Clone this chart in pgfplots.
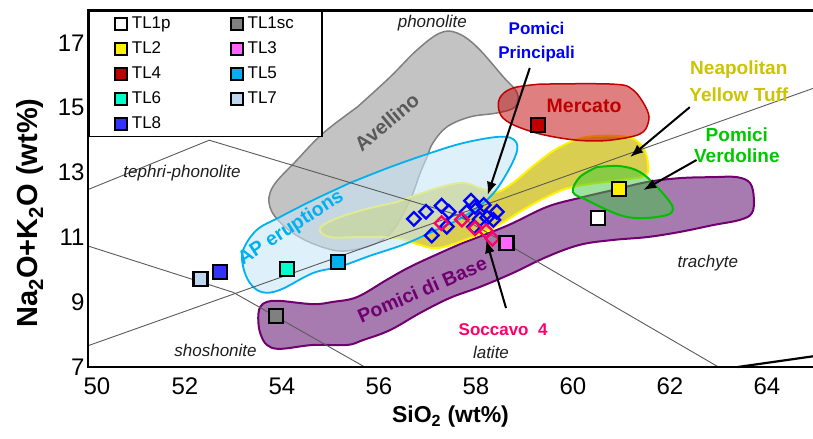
\documentclass[border=0pt]{standalone}
\usepackage{fontspec}
\setmainfont{Liberation Sans}
\usepackage{pgfplots}
\pgfplotsset{compat=1.18}
\usetikzlibrary{arrows.meta}
\definecolor{tlgray}{RGB}{128,128,128}
\definecolor{tlmag}{RGB}{255,102,255}
\definecolor{tlred}{RGB}{192,0,0}
\definecolor{tlcyan}{RGB}{0,176,240}
\definecolor{tlaqua}{RGB}{0,255,204}
\definecolor{tllb}{RGB}{189,215,238}
\definecolor{tlblue}{RGB}{51,51,255}
\definecolor{pinkfour}{RGB}{255,0,102}
\definecolor{purp}{RGB}{112,0,112}
\definecolor{purpfill}{RGB}{139,79,150}
\definecolor{apfill}{RGB}{200,230,247}
\definecolor{yelfill}{RGB}{204,190,20}
\definecolor{grfill}{RGB}{60,200,60}
\definecolor{grline}{RGB}{0,190,0}
\definecolor{grtext}{RGB}{0,200,0}
\definecolor{nyt}{RGB}{204,196,0}
\definecolor{avfill}{RGB}{185,185,185}
\definecolor{avline}{RGB}{128,128,128}
\definecolor{avtext}{RGB}{89,89,89}
\definecolor{tasline}{RGB}{90,90,90}
\definecolor{fieldtext}{RGB}{30,30,30}
\begin{document}
\begin{tikzpicture}
\begin{axis}[
  scale only axis, width=725bp, height=356.4bp,
  xmin=50, xmax=64.95, ymin=7, ymax=18,
  clip=false,
  axis line style={draw=none},
  major tick length=0pt,
  xtick={50,52,54,56,58,60,62,64}, ytick={7,9,11,13,15,17},
  xticklabels={\hspace*{18bp}50,52,54,56,58,60,62,64},
  /pgf/number format/assume math mode=true,
  tick label style={font=\fontsize{24bp}{28bp}\selectfont},
  xticklabel style={yshift=-7bp},
  xlabel={SiO\textsubscript{2} (wt\%)},
  ylabel={Na\textsubscript{2}O+K\textsubscript{2}O (wt\%)},
  xlabel style={font=\bfseries\fontsize{23bp}{28bp}\selectfont, at={(rel axis cs:0.5,-0.14)}, anchor=center},
  ylabel style={font=\bfseries\fontsize{29bp}{32bp}\selectfont, at={(rel axis cs:-0.08,0.432)}, anchor=center},
  legend columns=2,
  legend cell align=left,
  legend image post style={mark size=6bp},
  legend style={at={(rel axis cs:0,1)}, anchor=north west, draw=black, line width=1.8bp, fill=white,
    font=\fontsize{17bp}{20bp}\selectfont, inner xsep=26bp, inner ysep=2.5bp, row sep=5bp,
    nodes={text height=12.5bp, text depth=3.5bp, inner sep=2bp},
    /tikz/every odd column/.append style={column sep=3bp},
    /tikz/every even column/.append style={column sep=58bp}},
]
% ---- fields ----
% Pomici di Base
\addplot[forget plot, smooth, tension=0.6, draw=purp, line width=2bp, fill=purpfill, fill opacity=0.75] coordinates {
(57.73,10.83) (58.64,11.36) (59.46,11.94) (60.14,12.22) (60.82,12.46) (61.53,12.71) (62.21,12.83) (62.89,12.86) (63.38,12.86) (63.65,12.68) (63.73,12.22) (63.69,11.75) (63.44,11.54) (62.89,11.38) (62.21,11.17) (61.53,11.01) (60.82,10.92) (60.14,10.77) (59.46,10.40) (58.76,9.90) (58.08,9.47) (57.46,9.13) (56.85,8.67) (56.23,8.14) (55.67,7.83) (55.34,7.68) (54.64,7.68) (53.96,7.56) (53.69,7.68) (53.55,8.05) (53.51,8.51) (53.55,8.85) (53.69,9.01) (53.96,9.04) (54.64,8.94) (55.05,9.01) (55.55,9.16) (56.16,9.69) (56.64,10.09) (57.26,10.52) (57.73,10.83)} -- cycle;
% Avellino
\addplot[forget plot, smooth, tension=0.6, draw=avline, line width=1.5bp, fill=avfill, fill opacity=0.85] coordinates {
(55.55,15.02) (56.23,15.95) (56.78,16.78) (57.26,17.31) (57.61,17.31) (58.02,16.88) (58.56,15.96) (58.85,15.46) (58.80,15.02) (58.43,14.84) (57.88,14.72) (57.40,14.41) (57.11,13.91) (56.99,13.48) (56.85,12.99) (56.64,12.15) (56.29,11.23) (55.96,10.83) (55.46,10.61) (55.05,10.61) (54.47,10.92) (54.02,11.38) (53.75,11.94) (53.81,12.56) (54.31,13.39) (54.85,14.22) (55.55,15.02)} -- cycle;
% Neapolitan Yellow Tuff
\addplot[forget plot, smooth, tension=0.6, draw=yellow, line width=2bp, fill=yelfill, fill opacity=0.75] coordinates {
(56.37,12.09) (57.20,12.52) (57.73,12.68) (58.08,12.52) (58.43,12.40) (58.76,12.68) (59.26,13.30) (59.73,13.79) (60.29,14.10) (61.11,14.10) (61.44,13.79) (61.55,13.23) (61.48,12.90) (60.97,12.77) (60.00,12.56) (59.46,12.25) (58.97,11.85) (58.64,11.54) (58.35,11.29) (57.77,10.92) (57.20,10.67) (56.78,10.80) (56.37,10.98) (55.67,11.01) (54.99,11.01) (54.78,11.26) (55.05,11.54) (55.67,11.85) (56.37,12.09)} -- cycle;
% AP eruptions
\addplot[forget plot, smooth, tension=0.6, draw=tlcyan, line width=1.8bp, fill=apfill, fill opacity=0.6] coordinates {
(55.40,12.68) (56.23,13.17) (57.05,13.60) (57.73,13.91) (58.43,14.10) (58.76,14.04) (58.85,13.70) (58.64,12.99) (58.29,12.25) (57.73,11.63) (57.05,11.14) (56.49,10.77) (55.81,10.43) (55.20,10.10) (54.64,9.90) (53.96,9.38) (53.59,9.31) (53.34,9.59) (53.20,10.09) (53.20,10.61) (53.48,11.23) (53.96,11.63) (54.64,12.15) (55.40,12.68)} -- cycle;
% Pomici Verdoline
\addplot[forget plot, smooth, tension=0.6, draw=grline, line width=2bp, fill=grfill, fill opacity=0.5] coordinates {
(60.49,13.17) (60.97,13.20) (61.38,13.02) (61.73,12.56) (62.00,12.09) (62.06,11.85) (61.94,11.69) (61.53,11.60) (61.11,11.63) (60.70,11.85) (60.29,12.15) (60.00,12.40) (60.14,12.86) (60.49,13.17)} -- cycle;
% Mercato
\addplot[forget plot, smooth, tension=0.6, draw=tlred, line width=1.5bp, fill=tlred, fill opacity=0.5] coordinates {
(59.32,15.73) (60.82,15.73) (61.24,15.55) (61.53,14.93) (61.55,14.53) (61.38,14.19) (60.82,14.01) (60.29,13.98) (59.73,14.07) (59.18,14.25) (58.70,14.53) (58.49,14.84) (58.49,15.30) (58.76,15.61) (59.32,15.73)} -- cycle;
% ---- TAS boundaries ----
\addplot[forget plot, tasline, line width=0.9bp] coordinates {(50,7.656) (64.95,15.598)};
\addplot[forget plot, tasline, line width=0.9bp] coordinates {(50,12.476) (52.5,14) (57.6,11.7) (63,7)};
\addplot[forget plot, tasline, line width=0.9bp] coordinates {(50,10.735) (53,9.3) (55.706,7)};
\addplot[forget plot, black, line width=2.2bp] coordinates {(63.4,7) (64.95,7.33)};
% ---- Pomici Principali / Soccavo 4 ----
\addplot[forget plot, only marks, mark=square, mark size=4.8bp, mark options={rotate=45, draw=blue, line width=2.3bp}] coordinates {
(56.72,11.57) (56.97,11.79) (57.29,11.98) (57.44,11.79) (57.09,11.06) (57.40,11.33) (57.90,12.13) (57.98,11.95) (58.16,12.00) (57.81,11.78) (58.23,11.61) (58.43,11.79) (58.36,11.54) (58.08,11.56) (57.96,11.33)};
\addplot[forget plot, only marks, mark=square, mark size=4.8bp, mark options={rotate=45, draw=pinkfour, line width=2.3bp}] coordinates {
(57.29,11.44) (57.71,11.55) (57.98,11.28) (58.21,11.19) (58.34,10.96)};
% ---- TL samples ----
\addplot[only marks, mark=square*, mark size=7bp, mark options={fill=white, draw=black, line width=2.2bp}] coordinates {(60.52,11.60)};
\addlegendentry{TL1p}
\addplot[only marks, mark=square*, mark size=7bp, mark options={fill=tlgray, draw=black, line width=2.2bp}] coordinates {(53.87,8.58)};
\addlegendentry{TL1sc}
\addplot[only marks, mark=square*, mark size=7bp, mark options={fill=yellow, draw=black, line width=2.2bp}] coordinates {(60.95,12.49)};
\addlegendentry{TL2}
\addplot[only marks, mark=square*, mark size=7bp, mark options={fill=tlmag, draw=black, line width=2.2bp}] coordinates {(58.63,10.82)};
\addlegendentry{TL3}
\addplot[only marks, mark=square*, mark size=7bp, mark options={fill=tlred, draw=black, line width=2.2bp}] coordinates {(59.28,14.46)};
\addlegendentry{TL4}
\addplot[only marks, mark=square*, mark size=7bp, mark options={fill=tlcyan, draw=black, line width=2.2bp}] coordinates {(55.16,10.25)};
\addlegendentry{TL5}
\addplot[only marks, mark=square*, mark size=7bp, mark options={fill=tlaqua, draw=black, line width=2.2bp}] coordinates {(54.10,10.02)};
\addlegendentry{TL6}
\addplot[only marks, mark=square*, mark size=7bp, mark options={fill=tllb, draw=black, line width=2.2bp}] coordinates {(52.32,9.72)};
\addlegendentry{TL7}
\addplot[only marks, mark=square*, mark size=7bp, mark options={fill=tlblue, draw=black, line width=2.2bp}] coordinates {(52.72,9.94)};
\addlegendentry{TL8}
% ---- arrows ----
\addplot[forget plot, black, line width=2bp, -{Latex[length=13bp,width=10bp]}] coordinates {(59.11,16.23) (58.24,12.31)};
\addplot[forget plot, black, line width=2bp, -{Latex[length=13bp,width=10bp]}] coordinates {(62.41,15.02) (61.18,13.48)};
\addplot[forget plot, black, line width=2bp, -{Latex[length=13bp,width=10bp]}] coordinates {(62.55,13.39) (61.45,12.46)};
\addplot[forget plot, black, line width=2bp, -{Latex[length=13bp,width=10bp]}] coordinates {(58.62,8.82) (58.21,10.92)};
% ---- labels ----
\node[font=\bfseries\fontsize{20bp}{24bp}\selectfont, text=avtext, rotate=40] at (axis cs:56.16,14.56) {Avellino};
\node[font=\bfseries\fontsize{19.5bp}{24bp}\selectfont, text=tlcyan, rotate=33] at (axis cs:54.19,11.29) {AP eruptions};
\node[font=\bfseries\fontsize{19.5bp}{24bp}\selectfont, text=purp, rotate=23.5] at (axis cs:56.89,9.38) {Pomici di Base};
\node[font=\bfseries\fontsize{19.5bp}{24bp}\selectfont, text=tlred] at (axis cs:60.23,15.06) {Mercato};
\node[font=\bfseries\fontsize{17bp}{24bp}\selectfont, text=blue, align=center] at (axis cs:59.25,17.03) {Pomici\\Principali};
\node[font=\bfseries\fontsize{19bp}{27bp}\selectfont, text=nyt, align=center] at (axis cs:63.42,15.81) {Neapolitan\\Yellow Tuff};
\node[font=\bfseries\fontsize{19bp}{21bp}\selectfont, text=grtext, align=center] at (axis cs:63.38,13.85) {Pomici\\Verdoline};
\node[font=\bfseries\fontsize{17bp}{20bp}\selectfont, text=pinkfour] at (axis cs:58.56,8.14) {Soccavo\ \ 4};
\node[font=\itshape\fontsize{17bp}{20bp}\selectfont, text=fieldtext] at (axis cs:57.10,17.62) {phonolite};
\node[font=\itshape\fontsize{17bp}{20bp}\selectfont, text=fieldtext] at (axis cs:51.94,12.99) {tephri-phonolite};
\node[font=\itshape\fontsize{17bp}{20bp}\selectfont, text=fieldtext] at (axis cs:62.78,10.21) {trachyte};
\node[font=\itshape\fontsize{17bp}{20bp}\selectfont, text=fieldtext] at (axis cs:52.63,7.52) {shoshonite};
\node[font=\itshape\fontsize{17bp}{20bp}\selectfont, text=fieldtext] at (axis cs:58.31,7.46) {latite};
% ---- frame ----
\draw[line width=2.5bp] (rel axis cs:1,1) -- (rel axis cs:0,1) -- (rel axis cs:0,0) -- (rel axis cs:1,0);
\end{axis}
\pgfresetboundingbox
\path (current axis.south west) ++(-88bp,-72bp) rectangle ++(813bp,439bp);
\end{tikzpicture}
\end{document}
